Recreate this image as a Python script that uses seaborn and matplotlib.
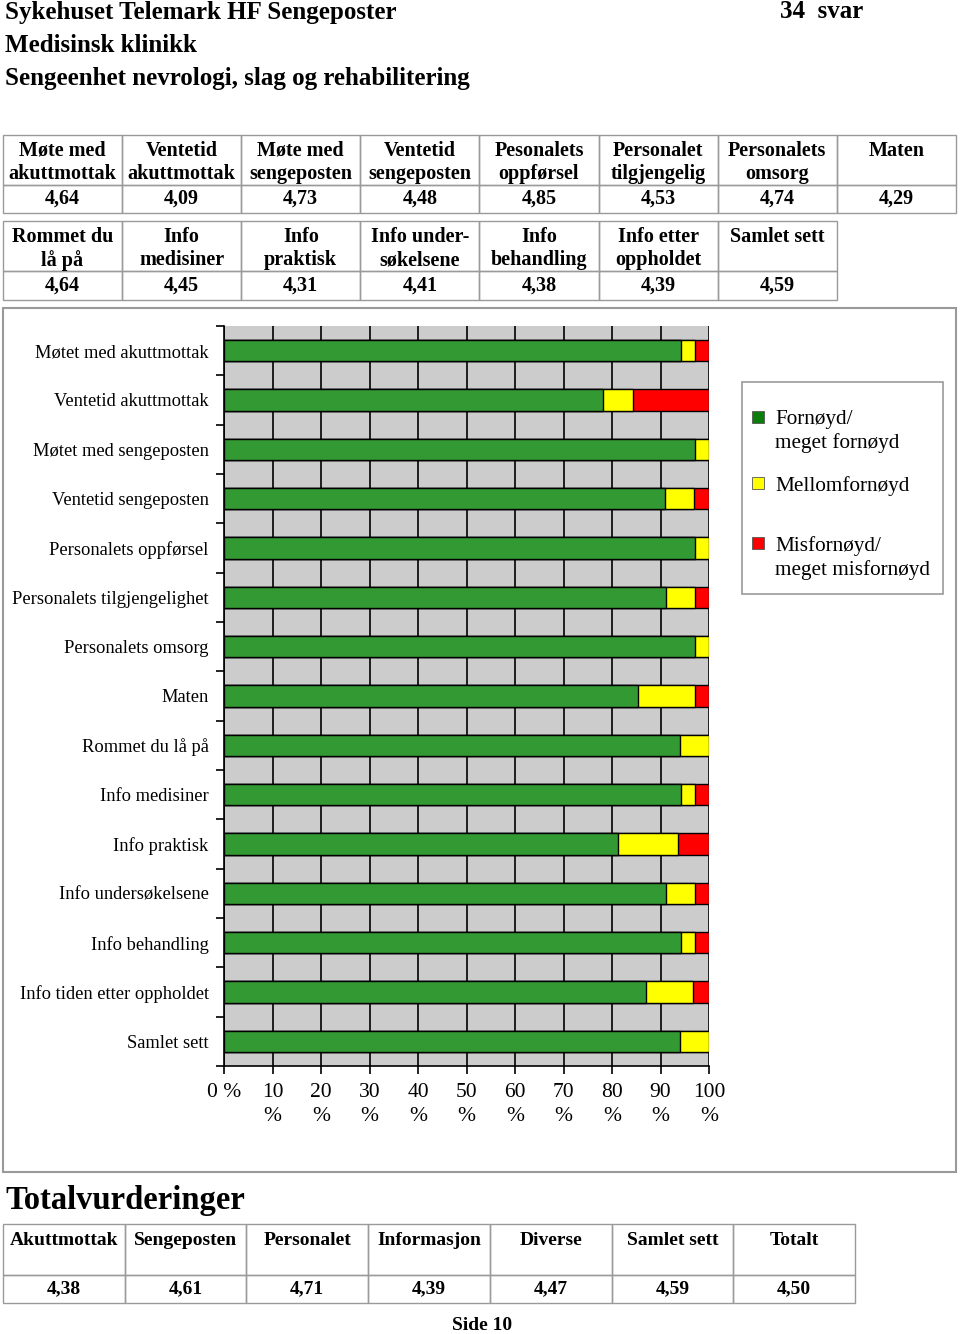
import numpy as np
import pandas as pd
import matplotlib
matplotlib.use("Agg")
import matplotlib.pyplot as plt
from matplotlib.patches import Rectangle
import seaborn as sns

# data
questions = ["Møtet med akuttmottak", "Ventetid akuttmottak", "Møtet med sengeposten",
             "Ventetid sengeposten", "Personalets oppførsel", "Personalets tilgjengelighet",
             "Personalets omsorg", "Maten", "Rommet du lå på", "Info medisiner",
             "Info praktisk", "Info undersøkelsene", "Info behandling",
             "Info tiden etter oppholdet", "Samlet sett"]
fornoyd = [94.1, 78.1, 97.1, 90.9, 97.1, 91.2, 97.1, 85.3, 94.1, 94.1, 81.3, 91.2, 94.1, 87.1, 94.1]
middels = [2.9, 6.3, 2.9, 6.1, 2.9, 5.9, 2.9, 11.8, 5.9, 2.9, 12.5, 5.9, 2.9, 9.7, 5.9]
misfornoyd = [2.9, 15.6, 0.0, 3.0, 0.0, 2.9, 0.0, 2.9, 0.0, 2.9, 6.3, 2.9, 2.9, 3.2, 0.0]

legend_labels = ["Fornøyd/\nmeget fornøyd", "Mellomfornøyd", "Misfornøyd/\nmeget misfornøyd"]
xtick_vals = list(range(0, 101, 10))

head1 = ["Møte med\nakuttmottak", "Ventetid\nakuttmottak", "Møte med\nsengeposten",
         "Ventetid\nsengeposten", "Pesonalets\noppførsel", "Personalet\ntilgjengelig",
         "Personalets\nomsorg", "Maten"]
vals1 = ["4,64", "4,09", "4,73", "4,48", "4,85", "4,53", "4,74", "4,29"]
head2 = ["Rommet du\nlå på", "Info\nmedisiner", "Info\npraktisk", "Info under-\nsøkelsene",
         "Info\nbehandling", "Info etter\noppholdet", "Samlet sett"]
vals2 = ["4,64", "4,45", "4,31", "4,41", "4,38", "4,39", "4,59"]
tot_head = ["Akuttmottak", "Sengeposten", "Personalet", "Informasjon", "Diverse",
            "Samlet sett", "Totalt"]
tot_vals = ["4,38", "4,61", "4,71", "4,39", "4,47", "4,59", "4,50"]

plt.rcParams['font.family'] = ['Liberation Serif', 'DejaVu Serif']

W, H = 960, 1334
fig = plt.figure(figsize=(W / 100, H / 100), dpi=100)

# background axes in pixel coordinates for the page layout
bg = fig.add_axes([0, 0, 1, 1])
bg.set_xlim(0, W)
bg.set_ylim(H, 0)
bg.axis("off")

bg.text(5, 12, "Sykehuset Telemark HF Sengeposter", fontsize=18, fontweight="bold", va="center")
bg.text(780, 12, "34  svar", fontsize=18, fontweight="bold", va="center")
bg.text(5, 45, "Medisinsk klinikk", fontsize=18, fontweight="bold", va="center")
bg.text(5, 78, "Sengeenhet nevrologi, slag og rehabilitering", fontsize=18, fontweight="bold", va="center")

line_col = "#9a9a9a"


def draw_table(x0, cw, y0, y1, y2, heads, vals, head_top, val_y, fs=14.5):
    n = len(heads)
    for i in range(n):
        x = x0 + i * cw
        bg.add_patch(Rectangle((x, y0), cw, y1 - y0, fill=False, ec=line_col, lw=1))
        bg.add_patch(Rectangle((x, y1), cw, y2 - y1, fill=False, ec=line_col, lw=1))
        bg.text(x + cw / 2, head_top, heads[i], fontsize=fs, fontweight="bold",
                ha="center", va="top", linespacing=1.2)
        bg.text(x + cw / 2, val_y, vals[i], fontsize=fs, fontweight="bold",
                ha="center", va="center")


draw_table(3, 119.1, 135, 185, 213, head1, vals1, 141, 199)
draw_table(3, 119.1, 221, 271, 300, head2, vals2, 227, 286)

# chart panel border
bg.add_patch(Rectangle((3, 308), 953, 864, fill=False, ec=line_col, lw=1.5))

# legend (manual, items aligned on first line)
bg.add_patch(Rectangle((742, 382), 201, 212, fill=False, ec=line_col, lw=1.2))
leg_cols = ["#0a7d0a", "#ffff00", "#ff0000"]
leg_y = [417, 483, 543]
for c, lab, yy in zip(leg_cols, legend_labels, leg_y):
    bg.add_patch(Rectangle((752, yy - 6), 12, 12, fc=c, ec="#555555", lw=0.6))
    bg.text(775, yy - 7, lab, fontsize=15.3, va="top", linespacing=1.25)

bg.text(5, 1200, "Totalvurderinger", fontsize=23.5, fontweight="bold", va="center")
draw_table(3, 121.7, 1224, 1275, 1303, tot_head, tot_vals, 1232, 1289, fs=14)
bg.text(482, 1326, "Side 10", fontsize=14, fontweight="bold", ha="center", va="center")

# the bar chart
ax = fig.add_axes([224 / W, 1 - 1066 / H, 485 / W, 740 / H])

df = pd.DataFrame({"spm": questions, "gronn": fornoyd, "gul": middels, "rod": misfornoyd})
total = df[["gronn", "gul", "rod"]].sum(axis=1)
df["c1"] = df["gronn"] / total * 100
df["c2"] = (df["gronn"] + df["gul"]) / total * 100
df["c3"] = (df["gronn"] + df["gul"] + df["rod"]) / total * 100

for col, colour in [("c3", "#ff0000"), ("c2", "#ffff00"), ("c1", "#339933")]:
    sns.barplot(data=df, x=col, y="spm", order=questions, color=colour, saturation=1,
                width=0.43, edgecolor="black", linewidth=1, errorbar=None, ax=ax)

ax.set_xlim(0, 100)
ax.set_ylim(14.5, -0.5)
ax.set_facecolor("#cccccc")
ax.set_axisbelow(True)
ax.xaxis.grid(True, color="black", lw=1.2)
ax.yaxis.grid(False)
ax.set_xlabel("")
ax.set_ylabel("")
for s in ["top", "right"]:
    ax.spines[s].set_visible(False)
for s in ["left", "bottom"]:
    ax.spines[s].set_color("black")
    ax.spines[s].set_linewidth(1.2)

ax.set_xticks(xtick_vals)
ax.set_xticklabels(["0 %"] + [f"{v}\n%" for v in xtick_vals[1:]], linespacing=1.35)
ax.tick_params(axis="x", direction="out", length=6, width=1.2, labelsize=15.5, pad=6)
ax.set_yticks(range(len(questions)))
ax.set_yticklabels(questions)
ax.tick_params(axis="y", which="major", length=0, labelsize=13.3, pad=11)
ax.set_yticks(np.arange(-0.5, len(questions), 1), minor=True)
ax.tick_params(axis="y", which="minor", direction="out", length=6, width=1.2)

fig.savefig("out.png", dpi=100)
